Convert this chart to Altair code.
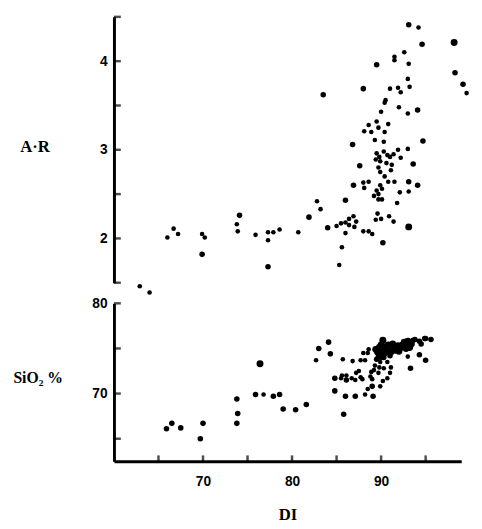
import altair as alt
import pandas as pd

# ---- top panel: A·R vs DI ----
ar_di = [62.9, 64.0, 66.0, 66.7, 67.2, 69.9, 70.2, 69.9, 73.8, 73.9, 74.1, 75.9, 77.3, 77.3, 77.9, 78.6,
         77.3, 80.7, 81.9, 82.8, 83.2, 83.5, 84.0, 85.0, 85.5, 86.0, 86.4, 86.9, 87.2, 86.4, 87.0, 86.0,
         85.6, 85.3, 86.0, 86.9, 86.8, 87.6, 88.0, 88.0, 88.6, 88.1, 88.0, 88.6, 89.0, 90.2, 88.6, 89.5,
         90.8, 88.1, 88.9, 89.7, 90.4, 89.3, 90.3, 89.5, 90.0, 90.5, 90.4, 91.0, 91.9, 92.2, 93.2, 93.0,
         92.0, 93.0, 94.1, 91.5, 91.5, 92.6, 93.1, 93.1, 94.2, 94.6, 98.2, 98.3, 99.2, 99.6, 94.7, 91.9,
         93.0, 89.5, 89.8, 90.3, 90.7, 91.0, 91.4, 89.9, 90.6, 91.2, 89.4, 92.2, 89.7, 89.9, 91.1, 93.6,
         90.4, 90.8, 91.5, 89.9, 90.1, 89.5, 89.2, 89.7, 90.1, 89.7, 92.1, 93.1, 93.1, 94.1, 91.8, 89.6,
         89.4, 90.0, 90.9, 91.4, 93.1]
ar_val = [1.46, 1.39, 2.01, 2.11, 2.05, 2.05, 2.01, 1.82, 2.16, 2.08, 2.26, 2.04, 2.07, 1.98, 2.07, 2.10,
          1.68, 2.07, 2.24, 2.42, 2.33, 3.62, 2.12, 2.14, 2.17, 2.18, 2.22, 2.25, 2.19, 2.15, 2.13, 2.06,
          1.90, 1.70, 2.43, 2.60, 3.06, 2.82, 3.69, 2.63, 2.64, 2.57, 2.08, 2.08, 2.05, 1.95, 3.28, 3.32,
          3.29, 3.21, 3.20, 3.25, 3.20, 3.11, 3.09, 3.96, 3.43, 3.56, 3.53, 3.69, 3.70, 3.65, 3.71, 3.80,
          3.48, 3.41, 3.45, 4.01, 4.05, 4.10, 3.97, 4.41, 4.38, 4.19, 4.21, 3.87, 3.74, 3.64, 3.10, 3.00,
          3.01, 2.96, 2.92, 2.98, 2.94, 2.92, 2.95, 2.87, 2.85, 2.83, 2.89, 2.91, 2.80, 2.75, 2.77, 2.84,
          2.70, 2.64, 2.64, 2.60, 2.56, 2.54, 2.48, 2.44, 2.44, 2.50, 2.52, 2.64, 2.53, 2.60, 2.40, 2.28,
          2.21, 2.22, 2.25, 2.19, 2.13]
ar_size = ["s", "s", "s", "s", "s", "s", "s", "m", "s", "s", "m", "s", "s", "s", "s", "s",
           "m", "s", "m", "s", "s", "m", "m", "s", "s", "s", "s", "s", "s", "s", "s", "s",
           "s", "s", "m", "m", "m", "m", "m", "s", "s", "s", "s", "s", "s", "m", "s", "s",
           "s", "s", "s", "s", "s", "s", "s", "m", "s", "s", "s", "s", "s", "s", "s", "s",
           "s", "s", "m", "s", "s", "s", "s", "m", "s", "m", "l", "m", "m", "s", "m", "s",
           "s", "s", "s", "s", "s", "s", "s", "s", "s", "s", "s", "s", "s", "s", "s", "m",
           "s", "s", "s", "s", "s", "s", "s", "s", "s", "s", "s", "m", "s", "m", "s", "s",
           "s", "s", "s", "s", "l"]

# ---- bottom panel: SiO2 % vs DI ----
si_di = [65.9, 66.5, 67.5, 69.7, 70.0, 73.8, 73.9, 73.8, 76.4, 75.9, 76.8, 77.9, 78.6, 79.0, 80.4, 81.6,
         82.7, 83.0, 84.1, 84.3, 84.8, 84.8, 85.5, 86.1, 85.6, 86.1, 86.7, 87.2, 87.5, 87.7, 87.9, 87.1,
         86.0, 87.1, 88.2, 89.1, 88.5, 89.0, 89.9, 90.2, 90.7, 91.0, 88.9, 88.8, 89.0, 89.2, 89.7, 89.8,
         90.3, 89.3, 89.9, 90.7, 91.1, 93.3, 95.0, 94.3, 93.0, 85.8, 85.7, 86.8, 87.7, 88.0, 88.6, 88.5,
         88.2,
         89.6, 89.8, 90.0, 90.1, 90.4, 90.7, 90.8, 91.1, 91.4, 91.6, 91.9, 92.1, 92.4, 92.6, 92.9, 93.0,
         93.2, 93.4, 89.9, 89.7, 90.3, 91.0, 93.8, 94.3, 94.5, 95.0, 95.6, 94.9, 90.2, 89.4, 90.5, 91.3,
         92.0, 92.8, 93.6, 90.0, 89.5]
si_val = [66.1, 66.7, 66.2, 65.0, 66.7, 66.7, 67.8, 69.4, 73.3, 69.9, 69.9, 69.7, 69.9, 68.3, 68.2, 68.8,
          73.7, 75.0, 75.7, 74.4, 70.3, 71.7, 71.7, 71.5, 72.0, 72.0, 71.7, 72.3, 72.5, 71.8, 71.6, 71.5,
          69.7, 69.7, 69.9, 69.7, 70.5, 70.8, 70.8, 71.4, 71.7, 72.3, 72.4, 71.9, 71.6, 72.6, 72.3, 72.9,
          72.8, 73.1, 73.5, 73.5, 72.9, 72.8, 73.7, 74.3, 74.1, 67.7, 73.8, 73.6, 73.7, 74.5, 74.9, 74.5,
          73.7,
          74.6, 75.1, 75.4, 74.8, 74.5, 74.9, 75.4, 74.6, 75.1, 74.8, 75.3, 75.0, 75.4, 75.7, 75.4, 75.8,
          75.1, 75.5, 74.3, 74.1, 74.0, 74.2, 76.0, 75.8, 75.5, 76.1, 76.0, 76.1, 75.9, 74.9, 75.2, 75.5,
          74.7, 75.0, 75.9, 74.0, 73.8]
si_size = ["m", "m", "m", "m", "m", "m", "m", "m", "l", "m", "s", "m", "m", "m", "m", "m",
           "s", "m", "m", "m", "m", "m", "s", "m", "s", "s", "s", "s", "s", "s", "s", "s",
           "m", "m", "s", "m", "s", "m", "s", "s", "s", "s", "s", "s", "s", "s", "s", "s",
           "s", "s", "s", "s", "s", "m", "m", "m", "s", "m", "s", "s", "s", "s", "s", "s",
           "s",
           "l", "l", "l", "l", "l", "l", "l", "l", "l", "l", "l", "l", "l", "l", "l", "l",
           "l", "l", "m", "m", "m", "m", "m", "m", "m", "m", "m", "m", "l", "l", "l", "l",
           "l", "l", "m", "m", "m"]

x_ticks = [65, 70, 75, 80, 85, 90, 95]
x_labels = [70, 80, 90]
ar_ticks = [1.5, 2, 2.5, 3, 3.5, 4, 4.5]
ar_labels = [2, 3, 4]
si_ticks = [65, 70, 75, 80]
si_labels = [70, 80]

size_px = {"s": 22, "m": 32, "l": 50}

W = 354
H1 = 271
H2 = 161
TICK_LEN = 7
LABEL_FONT = "Liberation Sans"
TITLE_FONT = "Liberation Serif"

top_df = pd.DataFrame({"di": ar_di, "ar": ar_val,
                       "sz": [size_px[s] for s in ar_size]})
bot_df = pd.DataFrame({"di": si_di, "si": si_val,
                       "sz": [size_px[s] for s in si_size]})

xs = alt.Scale(domain=[60, 99], nice=False, zero=False)
ys_top = alt.Scale(domain=[1.5, 4.5], nice=False, zero=False)
ys_bot = alt.Scale(domain=[62.5, 80], nice=False, zero=False)

common = dict(tickSize=0, domainWidth=3, domainColor="black", grid=False,
              labelFont=LABEL_FONT, labelFontSize=14, labelFontWeight="bold",
              labelColor="black", titleColor="black", titleFontWeight="bold",
              titleFont=TITLE_FONT)

ax_top = alt.Axis(values=ar_labels, labelPadding=7,
                  title="A·R", titleFontSize=17,
                  titleAngle=0, titleAlign="left", titleBaseline="middle",
                  titleX=-96, titleY=132, **common)

ax_bot_y = alt.Axis(values=si_labels, labelPadding=7,
                    title="SiO₂ %", titleFontSize=16,
                    titleAngle=0, titleAlign="left", titleBaseline="middle",
                    titleX=-103, titleY=76, **common)

ax_bot_x = alt.Axis(values=x_labels, labelPadding=14,
                    title="DI", titleFontSize=17, titlePadding=18, **common)

top_pts = alt.Chart(top_df).mark_circle(color="black", opacity=1).encode(
    x=alt.X("di:Q", scale=xs, axis=None),
    y=alt.Y("ar:Q", scale=ys_top, axis=ax_top),
    size=alt.Size("sz:Q", scale=None),
)
top_ticks = alt.Chart(pd.DataFrame({"t": ar_ticks})).mark_tick(
    color="black", thickness=2.5, size=TICK_LEN, orient="horizontal"
).encode(
    y=alt.Y("t:Q", scale=ys_top, axis=ax_top),
    x=alt.value(TICK_LEN / 2),
)
top = alt.layer(top_pts, top_ticks).properties(width=W, height=H1)

bot_pts = alt.Chart(bot_df).mark_circle(color="black", opacity=1).encode(
    x=alt.X("di:Q", scale=xs, axis=ax_bot_x),
    y=alt.Y("si:Q", scale=ys_bot, axis=ax_bot_y),
    size=alt.Size("sz:Q", scale=None),
)
bot_yt = alt.Chart(pd.DataFrame({"t": si_ticks})).mark_tick(
    color="black", thickness=2.5, size=TICK_LEN, orient="horizontal"
).encode(
    y=alt.Y("t:Q", scale=ys_bot, axis=ax_bot_y),
    x=alt.value(TICK_LEN / 2),
)
bot_xt = alt.Chart(pd.DataFrame({"t": x_ticks})).mark_tick(
    color="black", thickness=2.5, size=6, orient="vertical"
).encode(
    x=alt.X("t:Q", scale=xs, axis=ax_bot_x),
    y=alt.value(H2 - 3),
)
bot = alt.layer(bot_pts, bot_yt, bot_xt).properties(width=W, height=H2)

chart = alt.vconcat(top, bot, spacing=21, bounds="flush").properties(
    padding={"left": 5, "top": 2, "right": 5, "bottom": 2},
    background="white",
).configure_view(stroke=None)

chart.save("out.html", embed_options={"renderer": "svg", "actions": False})
